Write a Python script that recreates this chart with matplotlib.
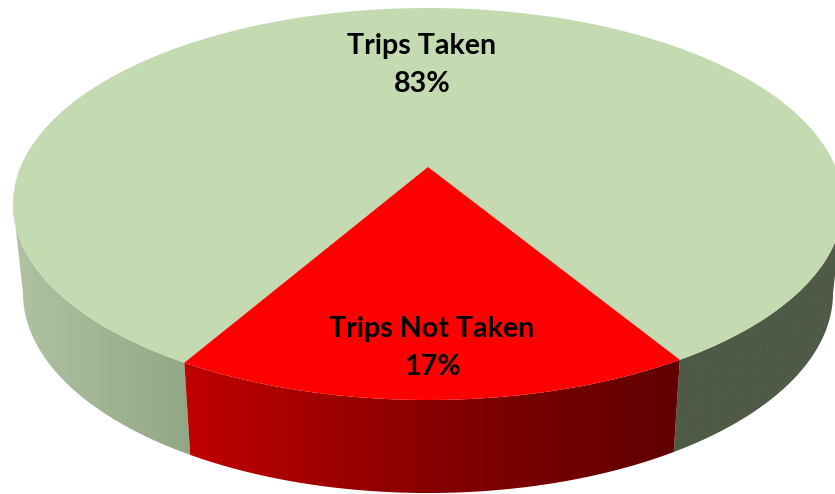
import numpy as np
import matplotlib
matplotlib.use("Agg")
import matplotlib.pyplot as plt
from matplotlib.colors import LinearSegmentedColormap, to_rgba
from matplotlib.patches import Polygon

labels = ["Trips Taken", "Trips Not Taken"]
shares = [83, 17]
face_colors = ["#c4dbb1", "#ff0000"]
label_pos = [(422, 46), (432, 329)]

# pie geometry in pixels, the tilted disc seen in perspective
TOP = (428, 204, 415, 196)
BOTTOM = (428, 293, 405, 200)
TILT = 0.189
ROTATE = 0.6

side_left = LinearSegmentedColormap.from_list("l", ["#aec2a1", "#92a785"])
side_red = LinearSegmentedColormap.from_list("r", ["#c00000", "#860000", "#600000"])


def disc(theta):
    t = np.radians(theta)
    u, v = np.cos(t), np.sin(t)
    d = 1 + TILT * v
    return u * np.sqrt(1 - TILT ** 2) / d, (v + TILT) / d


def project(u, v, ell):
    cx, cy, a, b = ell
    return cx + a * u, cy - b * v


def side_color(i, x):
    if i == 1:
        return side_red(np.clip((x - 186) / (680 - 186), 0, 1))
    if x < 428:
        return side_left(np.clip((x - 20) / (190 - 20), 0, 1))
    return to_rgba("#4f5a47")


fig = plt.figure(figsize=(8.35, 4.94), dpi=100)
ax = fig.add_axes([0, 0, 1, 1])

# red slice centred on the front of the disc
start = -90 + ROTATE - 360 * shares[1] / 100 / 2
spans = [(start + 360 * shares[1] / 100, start + 360), (start, start + 360 * shares[1] / 100)]

# walls: horizontal gradient clipped to the strip between top and bottom rims
# only the front half of each rim, the green slice wraps round the back so it splits in two
xs = np.arange(0, 836)
for i in range(2):
    th = np.linspace(spans[i][0], spans[i][1], 1200)
    u, v = disc(th)
    front = v <= 0
    for part in [front & (u < 0), front & (u >= 0)]:
        if part.sum() < 2:
            continue
        x0, y0 = project(u[part], v[part], TOP)
        x1, y1 = project(u[part], v[part], BOTTOM)
        outline = np.c_[np.r_[x0, x1[::-1]], np.r_[y0, y1[::-1]]]
        if i == 1:
            # the red wall is a single piece, drawn whole below
            continue
        grad = np.array([[side_color(i, x) for x in xs]])
        im = ax.imshow(grad, extent=(0, 835, 494, 0), aspect="auto", zorder=2, interpolation="bilinear")
        im.set_clip_path(Polygon(outline, closed=True, transform=ax.transData))
    if i == 1:
        x0, y0 = project(u, v, TOP)
        x1, y1 = project(u, v, BOTTOM)
        outline = np.c_[np.r_[x0, x1[::-1]], np.r_[y0, y1[::-1]]]
        grad = np.array([[side_color(i, x) for x in xs]])
        im = ax.imshow(grad, extent=(0, 835, 494, 0), aspect="auto", zorder=3, interpolation="bilinear")
        im.set_clip_path(Polygon(outline, closed=True, transform=ax.transData))

for i in range(2):
    th = np.linspace(spans[i][0], spans[i][1], 400)
    u, v = disc(th)
    x0, y0 = project(u, v, TOP)
    ax.fill(np.r_[TOP[0], x0], np.r_[TOP[1] - TOP[3] * TILT, y0], color=face_colors[i], lw=0, zorder=5 + i)

for name, share, pos in zip(labels, shares, label_pos):
    ax.text(pos[0], pos[1], name, family="Lato", weight="bold", fontsize=20.6, color="black",
            ha="center", va="center", zorder=8)
    ax.text(pos[0], pos[1] + 38, f"{share}%", family="Lato", weight="bold", fontsize=20.6, color="black",
            ha="center", va="center", zorder=8)

ax.set_xlim(0, 835)
ax.set_ylim(494, 0)
ax.axis("off")

fig.savefig("out.png", dpi=100)
